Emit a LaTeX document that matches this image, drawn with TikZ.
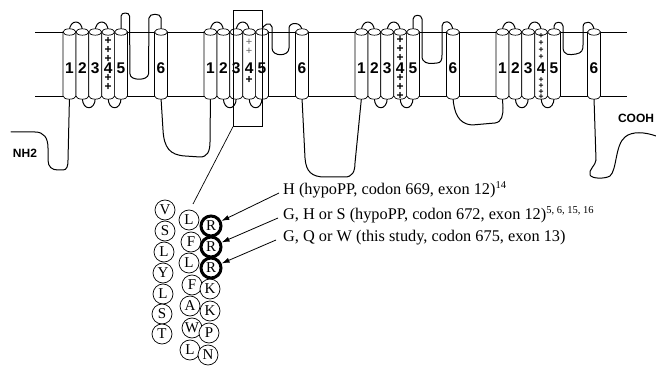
\documentclass[tikz,border=0pt]{standalone}
\usepackage{fontspec}
\setmainfont{Liberation Serif}
\newfontfamily\helv{Liberation Sans}
\usetikzlibrary{arrows.meta,calc}
\pgfdeclarelayer{bg}
\pgfsetlayers{bg,main}

\begin{document}
\begin{tikzpicture}[x=1pt,y=-1pt,
  membrane/.style={line width=0.8pt},
  chain/.style={line width=1pt, line join=round, line cap=round},
  tm/.pic={
    \path[draw, fill=white, line width=0.7pt]
      (-6.45,32) -- (-6.45,96)
      arc[start angle=180, end angle=0, x radius=6.45, y radius=3.2]
      -- (6.45,32) -- cycle;
    \path[draw, fill=white, line width=0.7pt]
      (0,32) ellipse [x radius=6.45, y radius=3.2];
    \coordinate (-top) at (0,31);
    \coordinate (-bot) at (0,98);
  },
  tmnum/.style={font=\helv\bfseries\fontsize{15.5}{15.5}\selectfont, inner sep=0},
  charge/.style={font=\helv\bfseries\fontsize{12}{12}\selectfont, inner sep=0},
  faint/.style={charge, font=\helv\fontsize{11}{11}\selectfont, text=black!60},
  tiny/.style={charge, font=\helv\bfseries\fontsize{8.5}{8.5}\selectfont},
  term/.style={font=\helv\bfseries\fontsize{12}{12}\selectfont, inner sep=0},
  res/.style={circle, draw, fill=white, line width=0.7pt, minimum size=20pt,
    inner sep=0, font=\fontsize{15}{15}\selectfont},
  hot/.style={res, line width=3pt},
  note/.style={anchor=base west, inner sep=0, font=\fontsize{16.3}{18}\selectfont},
  sup/.style={},
  pointer/.style={line width=0.8pt, -{Latex[length=8pt,width=5pt]}},
]
\useasboundingbox (0,0) rectangle (656,366);

% ---- four homologous domains, segments S1-S6 ----
\foreach \d/\xo in {1/63,2/204,3/355,4/496}{
  \foreach \k in {1,...,5}{
    \pic (d\d-\k) at ({\xo+6.45+(\k-1)*12.9},0) {tm};
  }
  \pic (d\d-6) at ({\xo+98},0) {tm};
}

% ---- charges along S4 ----
\foreach \y in {41,50,59,78,87}
  \node[charge] (pa\y) at (108.2,\y) {+};
\foreach \y in {42,51}
  \node[faint] (pb\y) at (249.2,\y) {+};
\foreach \y in {80}
  \node[charge] (pb\y) at (249.2,\y) {+};
\foreach \y in {40,49,58,78,87,96}
  \node[charge] (pc\y) at (400.2,\y) {+};
\foreach \y in {36,43,50,57,80,86,92,97}
  \node[tiny] (pd\y) at (541.2,\y) {+};

% ---- segment numbers ----
\foreach \d/\xo in {1/63,2/204,3/355,4/496}{
  \foreach \k in {1,...,5}{
    \node[tmnum] (n\d-\k) at ({\xo+6.45+(\k-1)*12.9},68) {\k};
  }
  \node[tmnum] (n\d-6) at ({\xo+98},68) {6};
}

% ---- membrane and connecting loops ----
\begin{pgfonlayer}{bg}
  \draw[membrane] (35,32) -- (627,32) (35,96) -- (627,96);
  \foreach \d in {1,...,4}{
    \draw[chain] (d\d-1-top) .. controls +(0,-12) and +(0,-12) .. (d\d-2-top);
    \draw[chain] (d\d-3-top) .. controls +(0,-12) and +(0,-12) .. (d\d-4-top);
    \draw[chain] (d\d-2-bot) .. controls +(0,13) and +(0,13) .. (d\d-3-bot);
    \draw[chain] (d\d-4-bot) .. controls +(0,13) and +(0,13) .. (d\d-5-bot);
  }
  % S5-S6 pore loops
  \draw[chain] (d1-5-top) -- (121.1,16) .. controls (121.1,12) and (129.5,12) .. (129.5,16)
    -- (130,74) .. controls (130,81) and (148,81) .. (148.5,74)
    -- (149,18) .. controls (149,13) and (161,13) .. (161,18) -- (d1-6-top);
  \draw[chain] (d2-5-top) .. controls (262.1,24) and (271,21) .. (272,27)
    -- (272,48) .. controls (272,57) and (289,57) .. (289,48)
    -- (289,28) .. controls (289,22) and (302,21) .. (d2-6-top);
  \draw[chain] (d3-5-top) -- (413.1,19) .. controls (413.1,14) and (422,14) .. (422,19)
    -- (422,56) .. controls (422,63) and (428,63.5) .. (432,63.5)
    -- (437,63) .. controls (441,63) and (442,60) .. (442,55)
    -- (442,26) .. controls (442,20) and (452,19) .. (d3-6-top);
  \draw[chain] (d4-5-top) -- (554.1,26) .. controls (554.1,21) and (563,21) .. (563,26)
    -- (563,47) .. controls (563,56) and (570,55) .. (576,54)
    .. controls (582,53) and (583,50) .. (583,45)
    -- (583,27) .. controls (583,20) and (594,20) .. (d4-6-top);
  % cytoplasmic linkers and termini
  \coordinate (nterm) at (11,132);
  \draw[chain] (nterm) -- (35,132) .. controls (44,132) and (48,138) .. (48,148)
    -- (48,160) .. controls (48,167) and (52,170) .. (58,170)
    -- (63,170) .. controls (67,170) and (68,166) .. (68,160) -- (d1-1-bot);
  \draw[chain] (d1-6-bot) -- (163,130) .. controls (164,148) and (170,155) .. (185,156)
    -- (200,157) .. controls (207,157) and (210,152) .. (210,142) -- (d2-1-bot);
  \draw[chain] (d2-6-bot) -- (305,158) .. controls (306,172) and (312,177) .. (325,177)
    -- (345,177) .. controls (352,177) and (355,172) .. (355,163) -- (d3-1-bot);
  \draw[chain] (d3-6-bot) .. controls (454,112) and (458,124) .. (472,125)
    -- (495,123) .. controls (502,122) and (503,115) .. (503,108) -- (d4-1-bot);
  \coordinate (cterm) at (656,136);
  \draw[chain] (d4-6-bot) -- (596,160) .. controls (596,165) and (588,170) .. (590,175)
    .. controls (592,179) and (605,179) .. (610,176)
    .. controls (617,170) and (615,145) .. (625,137)
    .. controls (632,131) and (645,132) .. (cterm);
\end{pgfonlayer}

\node[term] (nh2) at (25,153) {NH2};
\node[term] (cooh) at (636,118) {COOH};

% ---- enlarged region: S4 of domain II ----
\node[draw, line width=0.7pt, minimum width=29pt, minimum height=116pt,
      inner sep=0, anchor=north west] (zoombox) at (233,10) {};
\coordinate (wheeltop) at (193,204);
\draw[line width=0.7pt] (zoombox.south west) -- (wheeltop);

% residues of the S4 helix
\node[res] (a1) at (165,210) {V};
\node[res] (a2) at (165,231) {S};
\node[res] (a3) at (164,252) {L};
\node[res] (a4) at (163,273) {Y};
\node[res] (a5) at (163,294) {L};
\node[res] (a6) at (162,314) {S};
\node[res] (a7) at (162,334) {T};
\node[res] (b1) at (189,220) {L};
\node[res] (b2) at (191,242) {F};
\node[res] (b3) at (189,263) {L};
\node[res] (b4) at (192,285) {F};
\node[res] (b5) at (190,306) {A};
\node[res] (b6) at (192,328) {W};
\node[res] (b7) at (190,350) {L};
\node[res] (c4) at (210,289) {K};
\node[res] (c5) at (210,311) {K};
\node[res] (c6) at (209,333) {P};
\node[res] (c7) at (208,355) {N};
\node[hot] (c1) at (211,226) {R};
\node[hot] (c2) at (211,247) {R};
\node[hot] (c3) at (211,268) {R};

% ---- mutation notes ----
\node[note] (t1) at (283,195) {H (hypoPP, codon 669, exon 12)\raisebox{6pt}{\fontsize{10.5}{10.5}\selectfont 14}};
\node[note] (t2) at (283,220) {G, H or S (hypoPP, codon 672, exon 12)\raisebox{6pt}{\fontsize{10.5}{10.5}\selectfont 5, 6, 15, 16}};
\node[note] (t3) at (283,242) {G, Q or W (this study, codon 675, exon 13)};

\draw[pointer] ([shift={(-4pt,2pt)}]t1.base west) -- (c1);
\draw[pointer] ([shift={(-5pt,2pt)}]t2.base west) -- (c2);
\draw[pointer] ([shift={(-7pt,2pt)}]t3.base west) -- (c3);
\end{tikzpicture}
\end{document}
